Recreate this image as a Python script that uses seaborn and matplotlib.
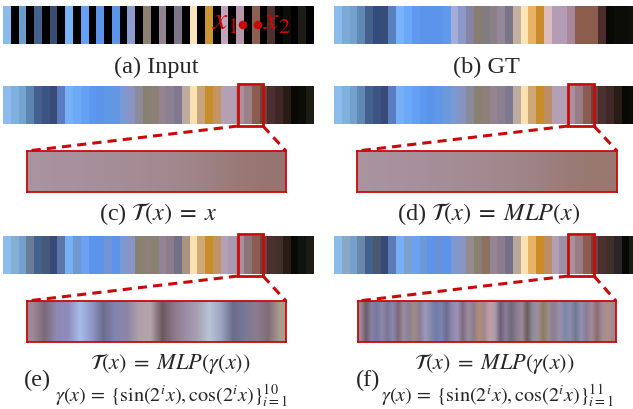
import numpy as np
import matplotlib
matplotlib.use("Agg")
import matplotlib.pyplot as plt
from matplotlib.colors import ListedColormap, to_rgb
from matplotlib.patches import Rectangle, Circle
import seaborn as sns

sns.set_theme(style="white")
plt.rcParams['font.family'] = ['Liberation Serif', 'DejaVu Serif']
plt.rcParams['mathtext.fontset'] = 'stix'

# ---------------- data: colours of each strip (40 cells) ----------------
input_colors = [
    '#88bcec', '#000000', '#6ca0cc', '#000000', '#44608c', '#000000', '#384c74', '#000000',
    '#78b4f8', '#000000', '#64a0f4', '#000000', '#5c94ec', '#000000', '#5c94ec', '#000000',
    '#8c9cd0', '#000000', '#8c8070', '#000000', '#948490', '#000000', '#7c7488', '#000000',
    '#fce4b8', '#000000', '#cc9430', '#000000', '#c4a4bc', '#000000', '#b498a8', '#000000',
    '#8c6050', '#000000', '#4c3030', '#000000', '#0c0c08', '#000000', '#1c1c14', '#000000',
]
gt_colors = [
    '#8cbcec', '#7caad8', '#74a0cc', '#6088b4', '#44608c', '#344c7c', '#384c78', '#5a80c0',
    '#78b4fc', '#6ca8f8', '#6098f0', '#5c94ec', '#5c94ec', '#5c94ec', '#6098ec', '#a4acd8',
    '#8c98c8', '#8484a4', '#887c70', '#807c80', '#8c8088', '#948898', '#7c7488', '#c4b0a0',
    '#fce4b4', '#e8b464', '#c88c2c', '#dcbcbc', '#b49cb4', '#b49cb4', '#a88898', '#8c5c4c',
    '#8c5c4c', '#8c5c4c', '#4c2c2c', '#080804', '#0c0c08', '#0c0c08', '#101010', '#1c1c14',
]
identity_colors = [
    '#8cbcec', '#80b0e0', '#74a4d0', '#5c84b0', '#44608c', '#3c5484', '#384a78', '#5a7cc0',
    '#78b0f8', '#6caaf8', '#64a0f4', '#5c98f0', '#5c94ec', '#6098e8', '#6496e4', '#7c98d4',
    '#8894c4', '#8c8c98', '#888070', '#8c8078', '#948490', '#8c8090', '#807890', '#bcaca0',
    '#fce0b0', '#c8a47c', '#c88c28', '#c49464', '#b4a0b4', '#b4a0b4', '#a8909c', '#9c8088',
    '#8c5c50', '#6c4440', '#4c3030', '#402828', '#281c14', '#080804', '#0c0c08', '#1c1c14',
]
mlp_colors = [
    '#8cbcec', '#80b0e0', '#74a0cc', '#6088b4', '#44608c', '#3c5484', '#384a78', '#5a7cc0',
    '#78b0f8', '#6ca8f8', '#64a0f4', '#5c98f0', '#5c94ec', '#6098e8', '#6c98dc', '#7c98d0',
    '#8894c0', '#888c98', '#888070', '#8c8078', '#948490', '#8c8090', '#807890', '#bcaca0',
    '#fce0b0', '#d0a878', '#c88c28', '#bc8c64', '#b4a0b4', '#b4a0b4', '#a8909c', '#9c7c84',
    '#8c5c50', '#6c4440', '#4c3030', '#402828', '#281c14', '#080804', '#0c0c08', '#1c1c14',
]
pe10_colors = [
    '#8cbcec', '#84b0d4', '#74a0cc', '#687c98', '#44608c', '#485878', '#384a78', '#5c74a8',
    '#78b0f8', '#7098d0', '#6ca0f0', '#5c94ec', '#5c94ec', '#7094d4', '#5c94ec', '#7c98d0',
    '#8894c4', '#888070', '#8c8078', '#888070', '#948494', '#8c7c8c', '#747088', '#a89480',
    '#fce0b0', '#d0a878', '#c88c28', '#c09464', '#b4a0b4', '#a898b0', '#a8909c', '#8c7478',
    '#8c5c50', '#6c4440', '#4c3030', '#403028', '#281c14', '#080804', '#101410', '#1c1c14',
]
pe11_colors = [
    '#8cbcec', '#88a8c4', '#74a0cc', '#6888a8', '#44608c', '#485870', '#384a78', '#5c7cb8',
    '#78b0f8', '#7ca0d0', '#6ca0f0', '#6c98d8', '#5c94ec', '#6c90d8', '#5c94ec', '#7c98cc',
    '#8894c4', '#948c8c', '#888070', '#8c7060', '#948494', '#8c7c8c', '#747088', '#b8a898',
    '#fce0b0', '#e8b464', '#c88c28', '#bc8c64', '#b4a0b4', '#9c90a8', '#a8909c', '#9c7c84',
    '#8c5c50', '#6c4440', '#4c3030', '#403028', '#2c2428', '#080804', '#181c18', '#1c1c14',
]

# zoomed-in regions
zoom_identity = ['#a9939f', '#a8909c', '#a68e99', '#a48b94', '#a2888e', '#9e8286', '#9a7a78', '#967470']
zoom_mlp = ['#a8939f', '#a8919d', '#a68e98', '#a48b93', '#a2888d', '#9e8284', '#9a7b77', '#98786f']
zoom_pe10 = ['#9c8898', '#7c6878', '#8c8ab0', '#8e8cbc', '#a8bce8', '#9098c8', '#6c6c8c', '#8484b0',
             '#8c84a8', '#b0a0a8', '#b4a4ac', '#6c5860', '#8c7888', '#9c8ca8', '#a8a0b4', '#b8c4d8',
             '#9ca4c0', '#6c6c8c', '#7a7898', '#8c7c90', '#806c78', '#ac9c8c']
zoom_pe11 = ['#9c8898', '#6c5c6c', '#8c80a0', '#7878a0', '#8c88a8', '#7c7494', '#8c88b0', '#7c6878',
             '#9c8c9c', '#8c8098', '#a08c88', '#8c7c90', '#9c98c0', '#8888a8', '#6c7ca8', '#7c84b0',
             '#6c6c90', '#8c88b0', '#a090b8', '#7c6c80', '#9c8ca0', '#8c7c8c', '#b08c78', '#a08890',
             '#c0a0a8', '#ac9cac', '#6c6078', '#8c7c98', '#6c6c7c', '#8c7c8c', '#9c8c98', '#6c5c5c',
             '#8c8c9c', '#a08c98', '#8c7c60', '#9c8c8c', '#8c7c98', '#9c90a8', '#7c88a8', '#8c8cac',
             '#707890', '#9090b0', '#8c7c98', '#a08c98', '#8c6c6c', '#a08c9c', '#b09080', '#9c8898']

captions = ['(a) Input', '(b) GT', r'(c) $\mathcal{T}(x)\;=\;x$', r'(d) $\mathcal{T}(x)\;=\;MLP(x)$']
formula_T = r'$\mathcal{T}(x)\;=\;MLP(\gamma(x))$'
formula_e = r'$\gamma(x)\,=\,\{\sin(2^i x),\cos(2^i x)\}_{i=1}^{10}$'
formula_f = r'$\gamma(x)\,=\,\{\sin(2^i x),\cos(2^i x)\}_{i=1}^{11}$'

# ---------------- layout ----------------
W, H = 633, 410
fig = plt.figure(figsize=(W / 100, H / 100), dpi=100)
RED = '#c80a0a'


def px_axes(x0, y0, x1, y1):
    return fig.add_axes([x0 / W, 1 - y1 / H, (x1 - x0) / W, (y1 - y0) / H])


def strip(colors, box):
    ax = px_axes(*box)
    n = len(colors)
    sns.heatmap(np.arange(n).reshape(1, -1), cmap=ListedColormap(colors),
                vmin=-0.5, vmax=n - 0.5, cbar=False, xticklabels=False,
                yticklabels=False, linewidths=0, ax=ax)
    ax.set_axis_off()
    return ax


def zoombox(colors, box):
    ax = px_axes(*box)
    rgb = np.array([to_rgb(c) for c in colors]).reshape(1, -1, 3)
    ax.imshow(rgb, aspect='auto', interpolation='bilinear',
              extent=(0, 1, 0, 1))
    ax.set_xticks([]); ax.set_yticks([])
    for s in ax.spines.values():
        s.set_visible(True)
        s.set_color(RED)
        s.set_linewidth(1.3)
    return ax


strip(input_colors, (3, 7, 314, 45))
strip(gt_colors, (334, 7, 645, 45))
strip(identity_colors, (3, 87, 314, 125))
strip(mlp_colors, (334, 87, 645, 125))
strip(pe10_colors, (3, 237, 314, 275))
strip(pe11_colors, (334, 237, 645, 275))

zoombox(zoom_identity, (27, 152, 286, 193))
zoombox(zoom_mlp, (357, 152, 617, 193))
zoombox(zoom_pe10, (27, 302, 286, 343))
zoombox(zoom_pe11, (358, 302, 616, 343))

# overlay in pixel coordinates
ov = fig.add_axes([0, 0, 1, 1])
ov.set_xlim(0, W)
ov.set_ylim(H, 0)
ov.set_axis_off()
ov.patch.set_alpha(0)

for (bx0, by0, bx1, by1), (zx0, zy0, zx1) in [
        ((238, 85, 263, 127), (27, 152, 286)),
        ((568, 85, 594, 127), (357, 152, 617)),
        ((238, 235, 263, 277), (27, 302, 286)),
        ((568, 235, 594, 277), (358, 302, 616))]:
    ov.add_patch(Rectangle((bx0, by0), bx1 - bx0, by1 - by0, fill=False,
                           edgecolor=RED, linewidth=2.0))
    ov.plot([bx0, zx0], [by1, zy0], color=RED, lw=2.2, dashes=(3, 2))
    ov.plot([bx1, zx1], [by1, zy0], color=RED, lw=2.2, dashes=(3, 2))

# sample annotations on the input strip
ov.add_patch(Circle((243, 26), 3.6, color=RED))
ov.add_patch(Circle((258, 26), 3.6, color=RED))
ov.text(225, 22, r'$x_1$', color=RED, fontsize=23, ha='center', va='center')
ov.text(277, 22, r'$x_2$', color=RED, fontsize=23, ha='center', va='center')

FS_CAP = 17.5
FS_T = 16
FS_G = 14.5
ov.text(156, 67, captions[0], ha='center', va='center', fontsize=FS_CAP)
ov.text(486, 67, captions[1], ha='center', va='center', fontsize=FS_CAP)
ov.text(158, 214, captions[2], ha='center', va='center', fontsize=FS_CAP)
ov.text(489, 214, captions[3], ha='center', va='center', fontsize=FS_CAP)

ov.text(170, 364, formula_T, ha='center', va='center', fontsize=FS_T)
ov.text(37, 380, '(e)', ha='center', va='center', fontsize=FS_CAP)
ov.text(172, 396, formula_e, ha='center', va='center', fontsize=FS_G)

ov.text(494, 364, formula_T, ha='center', va='center', fontsize=FS_T)
ov.text(368, 380, '(f)', ha='center', va='center', fontsize=FS_CAP)
ov.text(498, 396, formula_f, ha='center', va='center', fontsize=FS_G)

fig.savefig('out.png', dpi=100)
